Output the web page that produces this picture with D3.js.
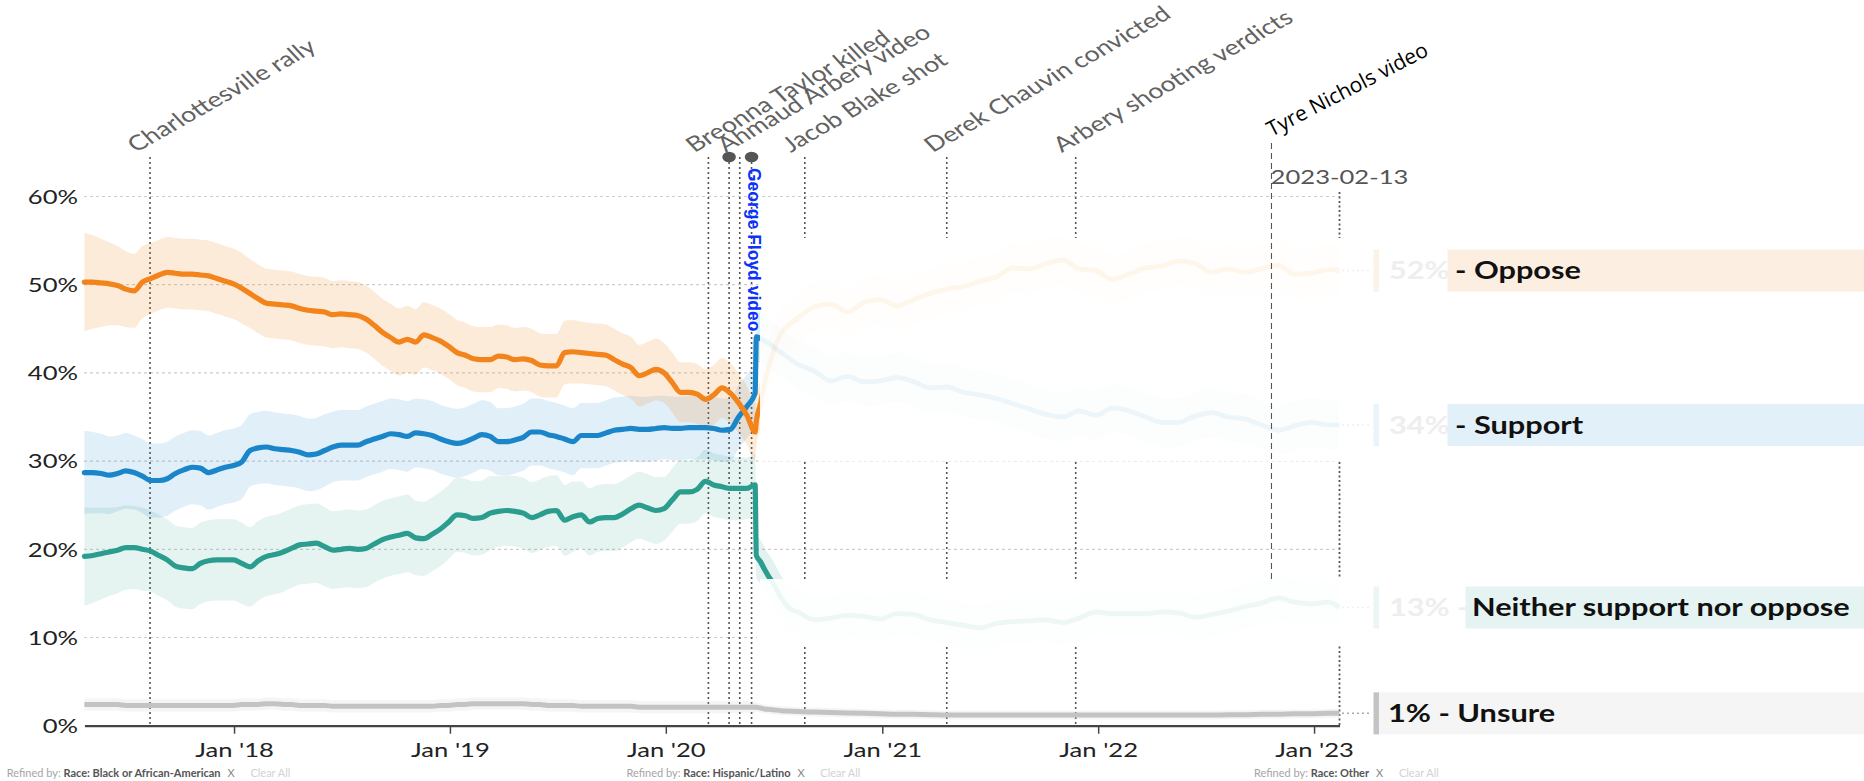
<!DOCTYPE html>
<html><head><meta charset="utf-8">
<script src="https://cdn.jsdelivr.net/npm/d3@7/dist/d3.min.js"></script>
<style>
html,body{margin:0;padding:0;background:#fff;}
svg{display:block;}
text{font-family:Lato,"Open Sans",sans-serif;}
</style></head><body>
<svg id="chart" width="1864" height="781"></svg>
<script>
// ---------------- DATA ----------------
const dates = [
"2017-04-23","2017-05-07","2017-05-21","2017-06-04","2017-06-18","2017-07-02","2017-07-16","2017-07-30","2017-08-13","2017-08-27",
"2017-09-10","2017-09-24","2017-10-08","2017-10-22","2017-11-05","2017-11-19","2017-12-03","2017-12-17","2017-12-31","2018-01-14",
"2018-01-28","2018-02-11","2018-02-25","2018-03-11","2018-03-25","2018-04-08","2018-04-22","2018-05-06","2018-05-20","2018-06-03",
"2018-06-17","2018-07-01","2018-07-15","2018-07-29","2018-08-12","2018-08-26","2018-09-09","2018-09-23","2018-10-07","2018-10-21",
"2018-11-04","2018-11-18","2018-12-02","2018-12-16","2018-12-30","2019-01-13","2019-01-27","2019-02-10","2019-02-24","2019-03-10",
"2019-03-24","2019-04-07","2019-04-21","2019-05-05","2019-05-19","2019-06-02","2019-06-16","2019-06-30","2019-07-14","2019-07-28",
"2019-08-11","2019-08-25","2019-09-08","2019-09-22","2019-10-06","2019-10-20","2019-11-03","2019-11-17","2019-12-01","2019-12-15",
"2019-12-29","2020-01-12","2020-01-26","2020-02-09","2020-02-23","2020-03-08","2020-03-22","2020-04-05","2020-04-19","2020-05-03",
"2020-05-17","2020-05-31",
"2020-06-02","2020-06-09","2020-06-16","2020-06-23","2020-06-30","2020-07-14","2020-07-28","2020-08-11","2020-09-08","2020-10-06",
"2020-11-03","2020-12-01","2020-12-29","2021-01-26","2021-02-23","2021-03-23","2021-04-20","2021-05-18","2021-06-15","2021-07-13",
"2021-08-10","2021-09-07","2021-10-05","2021-11-02","2021-11-30","2021-12-28","2022-01-25","2022-02-22","2022-03-22","2022-04-19",
"2022-05-17","2022-06-14","2022-07-12","2022-08-09","2022-09-06","2022-10-04","2022-11-01","2022-11-29","2022-12-27","2023-01-24",
"2023-02-13"];

const oppose = [
50.3,50.3,50.2,50.1,49.9,49.5,49.3,50.3,50.7,51.1,
51.4,51.3,51.2,51.2,51.1,51.0,50.7,50.4,50.1,49.6,
49.0,48.4,47.9,47.8,47.7,47.6,47.3,47.1,47.0,46.9,
46.6,46.7,46.6,46.5,46.1,45.4,44.6,44.0,43.5,43.8,
43.5,44.3,44.0,43.6,43.0,42.3,42.0,41.6,41.5,41.5,
41.9,41.8,41.5,41.6,41.4,40.9,40.8,40.8,42.3,42.4,
42.3,42.2,42.1,42.0,41.5,41.0,40.6,39.7,40.0,40.4,
40.0,38.9,37.8,37.8,37.6,37.0,37.5,38.3,37.7,36.6,
35.2,33.3,
34.5,36.5,38.8,40.6,42.3,44.5,45.5,46.2,47.5,47.8,
46.9,48.0,48.3,47.6,48.3,49.0,49.5,49.8,50.4,50.9,
51.9,51.8,52.4,52.8,51.8,51.6,50.6,51.2,51.9,52.1,
52.7,52.4,51.4,51.8,51.4,51.8,52.2,51.2,51.3,51.7,
51.6];

const support = [
28.7,28.7,28.6,28.4,28.6,28.9,28.7,28.3,27.8,27.8,
28.0,28.6,29.0,29.3,29.2,28.7,29.0,29.3,29.5,29.9,
31.2,31.5,31.6,31.4,31.3,31.2,31.0,30.7,30.8,31.2,
31.6,31.8,31.8,31.8,32.2,32.5,32.8,33.1,33.0,32.8,
33.2,33.1,32.9,32.5,32.2,32.0,32.2,32.6,33.0,32.8,
32.2,32.2,32.4,32.7,33.3,33.3,33.0,32.8,32.5,32.2,
32.9,32.9,32.9,33.2,33.5,33.6,33.7,33.6,33.6,33.7,
33.8,33.7,33.7,33.8,33.8,33.8,33.7,33.5,33.6,35.0,
36.2,37.7,
44.1,43.9,43.6,43.4,43.0,42.3,41.6,41.0,40.2,39.1,
39.6,39.0,39.1,39.5,39.0,38.3,38.4,37.8,37.5,37.1,
36.5,35.9,35.3,35.0,35.7,35.2,36.0,35.7,35.0,34.4,
34.4,35.1,35.5,35.0,34.8,34.1,33.5,34.0,34.4,34.1,
34.1];

const neither = [
19.2,19.3,19.5,19.7,19.9,20.2,20.2,20.0,19.8,19.3,
18.8,18.1,17.9,17.8,18.4,18.7,18.8,18.8,18.8,18.4,
18.0,18.7,19.2,19.4,19.7,20.1,20.5,20.6,20.7,20.3,
19.9,20.0,20.1,20.0,20.1,20.6,21.1,21.4,21.6,21.8,
21.3,21.2,21.7,22.3,23.1,23.9,23.8,23.5,23.6,24.1,
24.3,24.4,24.3,24.1,23.6,23.9,24.3,24.4,23.3,23.7,
23.9,23.1,23.5,23.6,23.6,24.0,24.6,25.0,24.7,24.4,
24.6,25.6,26.5,26.5,26.8,27.7,27.3,27.1,26.9,26.9,
26.9,27.3,
19.3,18.6,17.7,16.9,16.2,14.5,13.3,12.9,12.0,12.2,
12.5,12.4,12.1,12.7,12.6,12.0,11.7,11.4,11.1,11.6,
11.8,11.9,12.0,11.7,12.2,12.9,12.7,12.7,12.7,12.9,
12.8,12.3,12.6,13.0,13.5,13.9,14.5,14.0,13.8,14.0,
13.4];

const unsure = [
2.4,2.4,2.4,2.4,2.4,2.3,2.3,2.3,2.3,2.3,
2.3,2.3,2.3,2.3,2.3,2.3,2.3,2.3,2.3,2.4,
2.4,2.4,2.5,2.5,2.4,2.4,2.3,2.3,2.3,2.3,
2.2,2.2,2.2,2.2,2.2,2.2,2.2,2.2,2.2,2.2,
2.2,2.2,2.2,2.3,2.3,2.4,2.4,2.5,2.5,2.5,
2.5,2.5,2.5,2.5,2.4,2.4,2.3,2.3,2.3,2.3,
2.2,2.2,2.2,2.2,2.2,2.2,2.2,2.1,2.1,2.1,
2.1,2.1,2.1,2.1,2.1,2.1,2.1,2.1,2.1,2.1,
2.1,2.1,
2.1,2.0,1.9,1.85,1.8,1.7,1.65,1.6,1.55,1.5,
1.45,1.4,1.35,1.3,1.3,1.25,1.2,1.2,1.2,1.2,
1.2,1.2,1.2,1.2,1.2,1.2,1.2,1.2,1.2,1.2,
1.2,1.2,1.2,1.25,1.25,1.3,1.3,1.35,1.35,1.4,
1.4];

// margins of error (half-width of shaded band)
const opposeMoe = [
5.6,5.3,5.0,4.7,4.5,4.3,4.2,4.1,4.0,4.0,
4.0,4.0,4.0,4.0,4.0,4.0,4.0,4.0,4.0,4.0,
3.9,3.9,3.9,3.9,3.9,3.9,3.9,3.9,3.9,3.9,
3.8,3.8,3.8,3.8,3.8,3.8,3.8,3.8,3.8,3.8,
3.7,3.7,3.7,3.7,3.7,3.7,3.7,3.7,3.7,3.7,
3.6,3.6,3.6,3.6,3.6,3.6,3.6,3.6,3.6,3.6,
3.5,3.5,3.5,3.5,3.5,3.5,3.5,3.5,3.5,3.5,
3.4,3.4,3.4,3.4,3.4,3.4,3.4,3.4,3.4,3.4,
3.3,3.3,
2.8,2.8,2.8,2.8,2.8,2.8,2.8,2.8,2.8,2.8,
2.8,2.8,2.8,2.8,2.8,2.8,2.8,2.8,2.8,2.8,
2.8,2.8,2.8,2.8,2.8,2.8,2.8,2.8,2.8,2.8,
2.8,2.8,2.8,2.8,2.8,2.8,2.8,2.8,2.8,2.8,
2.8];
const supportMoe = [
4.7,4.6,4.5,4.4,4.3,4.3,4.2,4.2,4.2,4.2,
4.2,4.2,4.2,4.2,4.2,4.2,4.2,4.2,4.2,4.2,
4.1,4.1,4.1,4.1,4.1,4.1,4.1,4.1,4.1,4.1,
4.0,4.0,4.0,4.0,4.0,4.0,4.0,4.0,4.0,4.0,
3.9,3.9,3.9,3.9,3.9,3.9,3.9,3.9,3.9,3.9,
3.8,3.8,3.8,3.8,3.8,3.8,3.8,3.8,3.8,3.8,
3.7,3.7,3.7,3.7,3.7,3.7,3.7,3.7,3.7,3.7,
3.6,3.6,3.6,3.6,3.6,3.6,3.6,3.6,3.6,3.6,
3.6,3.6,
2.8,2.8,2.8,2.8,2.8,2.8,2.8,2.8,2.8,2.8,
2.8,2.8,2.8,2.8,2.8,2.8,2.8,2.8,2.8,2.8,
2.8,2.8,2.8,2.8,2.8,2.8,2.8,2.8,2.8,2.8,
2.8,2.8,2.8,2.8,2.8,2.8,2.8,2.8,2.8,2.8,
2.8];
const neitherMoe = [
5.6,5.4,5.2,5.0,4.9,4.8,4.7,4.7,4.6,4.6,
4.6,4.6,4.6,4.6,4.6,4.6,4.6,4.6,4.6,4.6,
4.5,4.5,4.5,4.5,4.5,4.5,4.5,4.5,4.5,4.5,
4.4,4.4,4.4,4.4,4.4,4.4,4.4,4.4,4.4,4.4,
4.2,4.2,4.2,4.2,4.2,4.2,4.2,4.2,4.2,4.2,
4.0,4.0,4.0,4.0,4.0,4.0,4.0,4.0,4.0,4.0,
3.8,3.8,3.8,3.8,3.8,3.8,3.8,3.8,3.8,3.8,
3.6,3.6,3.6,3.6,3.6,3.6,3.6,3.6,3.6,3.6,
3.5,3.5,
2.5,2.5,2.5,2.5,2.5,2.5,2.5,2.5,2.5,2.5,
2.5,2.5,2.5,2.5,2.5,2.5,2.5,2.5,2.5,2.5,
2.5,2.5,2.5,2.5,2.5,2.5,2.5,2.5,2.5,2.5,
2.5,2.5,2.5,2.5,2.5,2.5,2.5,2.5,2.5,2.5,
2.5];
const unsureMoe = [
0.7,0.7,0.7,0.7,0.7,0.7,0.7,0.7,0.7,0.7,
0.7,0.7,0.7,0.7,0.7,0.7,0.7,0.7,0.7,0.7,
0.7,0.7,0.7,0.7,0.7,0.7,0.7,0.7,0.7,0.7,
0.7,0.7,0.7,0.7,0.7,0.7,0.7,0.7,0.7,0.7,
0.7,0.7,0.7,0.7,0.7,0.7,0.7,0.7,0.7,0.7,
0.7,0.7,0.7,0.7,0.7,0.7,0.7,0.7,0.7,0.7,
0.7,0.7,0.7,0.7,0.7,0.7,0.7,0.7,0.7,0.7,
0.7,0.7,0.7,0.7,0.7,0.7,0.7,0.7,0.7,0.7,
0.7,0.7,
0.5,0.5,0.5,0.5,0.5,0.5,0.5,0.5,0.5,0.5,
0.5,0.5,0.5,0.5,0.5,0.5,0.5,0.5,0.5,0.5,
0.5,0.5,0.5,0.5,0.5,0.5,0.5,0.5,0.5,0.5,
0.5,0.5,0.5,0.5,0.5,0.5,0.5,0.5,0.5,0.5,
0.5];

const seriesNames = ["Oppose","Support","Neither support nor oppose","Unsure"];
const yTicks = [0,10,20,30,40,50,60];
const xTickDates = ["2018-01-01","2019-01-01","2020-01-01","2021-01-01","2022-01-01","2023-01-01"];

const eventDates  = ["2017-08-12","2020-03-13","2020-04-17","2020-05-05","2020-05-25","2020-08-23","2021-04-20","2021-11-24"];
const eventLabels = ["Charlottesville rally","Breonna Taylor killed","","Ahmaud Arbery video","","Jacob Blake shot","Derek Chauvin convicted","Arbery shooting verdicts"];
const eventDots   = [false,false,true,false,true,false,false,false];
const highlightLabel = "George Floyd video";
const addedEventDate = "2022-10-21";
const addedEventLabel = "Tyre Nichols video";
const refinedRaces = ["Black or African-American","Hispanic/Latino","Other"];

// ---------------- CHART ----------------
const W = 1864, H = 781, SX = 1.28;
const parse = d3.timeParse("%Y-%m-%d");
const x = d3.scaleTime().domain([parse(dates[0]), parse(dates[dates.length-1])]).range([84.4, 1339.5]);
const y = d3.scaleLinear().domain([0, 60]).range([725.7, 196.5]);
const svg = d3.select("#chart");

const defs = svg.append("defs");
const cf = defs.append("clipPath").attr("id","clipFull");
cf.append("rect").attr("x",0).attr("y",0).attr("width",760).attr("height",H);
cf.append("rect").attr("x",759).attr("y",540).attr("width",40).attr("height",39);
const cd = defs.append("clipPath").attr("id","clipFade");
cd.append("rect").attr("x",757.5).attr("y",0).attr("width",600).attr("height",H);

// gridlines
svg.append("g").selectAll("line").data(yTicks.filter(v => v > 0)).join("line")
  .attr("x1",84).attr("x2",1340).attr("y1",d=>y(d)).attr("y2",d=>y(d))
  .attr("stroke","#cdcdcd").attr("stroke-width",1.2).attr("stroke-dasharray","3,3");

// y labels
svg.append("g").selectAll("text").data(yTicks).join("text")
  .attr("transform",d=>`translate(78,${y(d)}) scale(${SX},1)`)
  .attr("text-anchor","end").attr("dy","0.36em")
  .style("font-size","20px").attr("fill","#222").text(d=>d+"%");

// event lines
const evG = svg.append("g");
eventDates.forEach((d,i)=>{
  const xx = x(parse(d));
  evG.append("line").attr("x1",xx).attr("x2",xx).attr("y1",157).attr("y2",725.7)
    .attr("stroke","#555").attr("stroke-width",1.6).attr("stroke-dasharray","2,3");
});
// end-date line
const xe = x(parse(dates[dates.length-1]));
evG.append("line").attr("x1",xe).attr("x2",xe).attr("y1",192).attr("y2",725.7)
  .attr("stroke","#555").attr("stroke-width",1.8).attr("stroke-dasharray","2,2.5");

// white covers (faded region)
svg.append("rect").attr("x",758).attr("y",238).attr("width",590).attr("height",223.5).attr("fill","#fff");
svg.append("rect").attr("x",757).attr("y",579).attr("width",591).attr("height",66).attr("fill","#fff");

// event dots and labels
eventDates.forEach((d,i)=>{
  const xx = x(parse(d));
  if (eventDots[i]) evG.append("ellipse").attr("cx",xx).attr("cy",157).attr("rx",6.8).attr("ry",5.3).attr("fill","#555");
  if (eventLabels[i]) {
    svg.append("text")
      .attr("transform",`translate(${xx-14},153) scale(${SX},1) rotate(-36)`)
      .style("font-size","21px").attr("fill","#626262").text(eventLabels[i]);
  }
});

// series
const series = [
  {name:seriesNames[0], vals:oppose,  moe:opposeMoe,  color:"#f3831b", bandOp:0.16, fadeCol:"#fdf2e8", bg:"#fdeee2"},
  {name:seriesNames[1], vals:support, moe:supportMoe, color:"#1b85c9", bandOp:0.13, fadeCol:"#eaf4fa", bg:"#e2f0f9"},
  {name:seriesNames[2], vals:neither, moe:neitherMoe, color:"#2b9d8f", bandOp:0.12, fadeCol:"#eaf6f5", bg:"#e5f4f3"},
  {name:seriesNames[3], vals:unsure,  moe:unsureMoe,  color:"#c3c3c3", bandOp:0.15, fadeCol:"#c4c4c4", bg:"#f5f5f5"}
];
series.forEach(s => s.data = dates.map((d,i)=>({date:parse(d), v:s.vals[i], m:s.moe[i]})));

const line = d3.line().x(d=>x(d.date)).y(d=>y(d.v)).curve(d3.curveMonotoneX);
const area = d3.area().x(d=>x(d.date)).y0(d=>y(d.v-d.m)).y1(d=>y(d.v+d.m)).curve(d3.curveMonotoneX);
const main3 = [series[2], series[1], series[0]];

// faded (after the cut)
const fadeG = svg.append("g").attr("clip-path","url(#clipFade)");
main3.forEach(s => fadeG.append("path").attr("d",area(s.data)).attr("fill",s.color).attr("opacity",0.012));
main3.forEach(s => fadeG.append("path").attr("d",line(s.data)).attr("fill","none")
  .attr("stroke",s.color).attr("stroke-width",4.8).attr("opacity",0.075).attr("stroke-linejoin","round"));

// unsure full width
svg.append("path").attr("d",area(series[3].data)).attr("fill","#bbb").attr("opacity",0.15);
svg.append("path").attr("d",line(series[3].data)).attr("fill","none")
  .attr("stroke",series[3].color).attr("stroke-width",5).attr("stroke-linejoin","round");

// full colour (before the cut)
const fullG = svg.append("g").attr("clip-path","url(#clipFull)");
main3.forEach(s => fullG.append("path").attr("d",area(s.data)).attr("fill",s.color).attr("opacity",s.bandOp));
main3.forEach(s => fullG.append("path").attr("d",line(s.data)).attr("fill","none")
  .attr("stroke",s.color).attr("stroke-width",5.2).attr("stroke-linejoin","round").attr("stroke-linecap","round"));

// added event (dashed) line and label
const xa = x(parse(addedEventDate));
svg.append("line").attr("x1",xa).attr("x2",xa).attr("y1",143).attr("y2",580)
  .attr("stroke","#555").attr("stroke-width",1.1).attr("stroke-dasharray","6,4");
svg.append("text").attr("transform",`translate(${xa},137) rotate(-27.5)`)
  .style("font-family","'Open Sans','Noto Sans',sans-serif").style("font-size","21px").attr("fill","#000").text(addedEventLabel);

// highlighted event label (vertical)
const xg = x(parse(eventDates[4]));
svg.append("text").attr("transform",`translate(${xg-3.5},168) rotate(90)`)
  .style("font-family","'Liberation Sans',Arial,sans-serif").style("font-weight","bold")
  .style("font-size","17.5px").attr("fill","#0a32ff").text(highlightLabel);

// end-date label
svg.append("text").attr("transform",`translate(${xe},184) scale(${SX},1)`).attr("text-anchor","middle")
  .style("font-size","20px").attr("fill","#555").text(dates[dates.length-1]);

// x axis
const xAxis = d3.axisBottom(x).tickValues(xTickDates.map(parse)).tickFormat(d3.timeFormat("%b '%y")).tickSize(8).tickSizeOuter(0);
const ax = svg.append("g").attr("transform","translate(0,725.7)").call(xAxis);
ax.select(".domain").attr("stroke","#444").attr("stroke-width",2.2);
ax.selectAll(".tick line").attr("stroke","#444").attr("stroke-width",1.5);
ax.selectAll(".tick text").attr("y",31).attr("dy",0).attr("transform",`scale(${SX},1)`)
  .style("font-size","20px").style("font-family","Lato").attr("fill","#222");

// legend (right labels)
const lg = svg.append("g");
series.forEach((s,i)=>{
  const last = s.vals[s.vals.length-1];
  const yc = y(last);
  const isUnsure = i === 3;
  lg.append("line").attr("x1",1342).attr("x2",1372).attr("y1",yc).attr("y2",yc)
    .attr("stroke", isUnsure ? "#aaa" : "#f0f0f0").attr("stroke-width",1.5).attr("stroke-dasharray","2,3");
  lg.append("rect").attr("x",1373.5).attr("y",yc-21).attr("width",5.5).attr("height",42).attr("fill",s.fadeCol);
  const pct = Math.round(last) + "%";
  let bgX, textX, label;
  if (isUnsure) { bgX = 1379; textX = 1388; label = pct + " - " + s.name; }
  else if (i === 2) { bgX = 1465.5; textX = 1472; label = s.name; }
  else { bgX = 1447.5; textX = 1455; label = "- " + s.name; }
  if (!isUnsure) {
    lg.append("text").attr("transform",`translate(1389,${yc+8.6}) scale(${SX},1)`)
      .style("font-size","24px").style("font-weight","bold").attr("fill","#eeeeee")
      .text(i === 2 ? pct + " -" : pct);
  }
  lg.append("rect").attr("x",bgX).attr("y",yc-21).attr("width",W-bgX).attr("height",42).attr("fill",s.bg);
  lg.append("text").attr("transform",`translate(${textX},${yc+8.6}) scale(${SX},1)`)
    .style("font-size","24px").style("font-weight","bold").attr("fill","#111").text(label);
});

// bottom "Refined by" notes
const noteX = [6.7, 626.5, 1254];
refinedRaces.forEach((r,i)=>{
  const t = svg.append("text").attr("x",noteX[i]).attr("y",777).style("font-size","11px");
  t.append("tspan").attr("fill","#a5a5a5").text("Refined by: ");
  t.append("tspan").attr("fill","#555").style("font-weight","bold").text("Race: " + r);
  t.append("tspan").attr("fill","#888").attr("dx",7).text("X");
  t.append("tspan").attr("fill","#d2d2d2").attr("dx",16).text("Clear All");
});
</script>
</body></html>
